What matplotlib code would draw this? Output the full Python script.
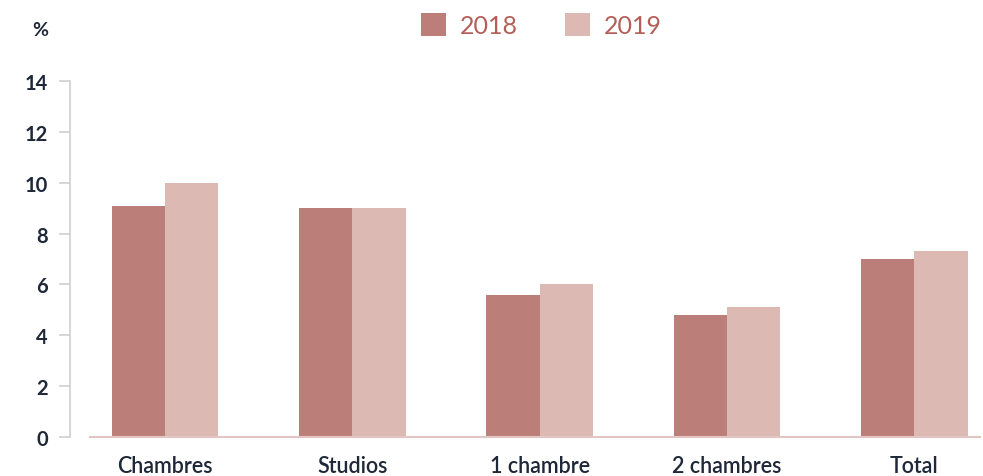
import matplotlib.pyplot as plt
import numpy as np

categories = ['Chambres', 'Studios', '1 chambre', '2 chambres', 'Total']
vals_2018 = [9.1, 9.0, 5.6, 4.8, 7.0]
vals_2019 = [10.0, 9.0, 6.0, 5.1, 7.3]
yticks = [0, 2, 4, 6, 8, 10, 12, 14]

c2018 = '#BC7E78'
c2019 = '#DDB9B4'
text_col = '#1E2838'

plt.rcParams['font.family'] = ['Lato', 'DejaVu Sans']

fig = plt.figure(figsize=(9.83, 4.77), dpi=100)
ax = fig.add_axes([0.0712, 0.0818, 0.926, 0.746])

x = np.arange(len(categories))
w = 0.285
ax.bar(x - w / 2, vals_2018, w, color=c2018, label='2018')
ax.bar(x + w / 2, vals_2019, w, color=c2019, label='2019')

ax.set_xlim(-0.508, 4.353)
ax.set_ylim(0, 14)
ax.set_yticks(yticks)
ax.set_xticks(x)
ax.set_xticklabels(categories, fontsize=15.5, color=text_col, fontweight='semibold')
ax.tick_params(axis='x', length=0, pad=13)
ax.tick_params(axis='y', length=8, width=1.2, color='#D0D0D0', pad=8,
               labelsize=14.5, labelcolor=text_col)
for lab in ax.get_yticklabels():
    lab.set_fontweight('bold')

for s in ['top', 'right', 'bottom']:
    ax.spines[s].set_visible(False)
ax.spines['left'].set_color('#D0D0D0')
ax.spines['left'].set_linewidth(1.2)
ax.plot([-0.401, 4.353], [0, 0], color='#E3C6C3', lw=1.5, clip_on=False)

fig.text(0.041, 0.937, '%', fontsize=14, fontweight='bold', color=text_col,
         ha='center', va='center')
fig.legend(loc='center', bbox_to_anchor=(0.551, 0.945), ncol=2, frameon=False,
           fontsize=18, handlelength=1.0, handleheight=1.0, columnspacing=1.9,
           handletextpad=0.55, labelcolor='#B35F58')

fig.savefig('out.png', dpi=100)
